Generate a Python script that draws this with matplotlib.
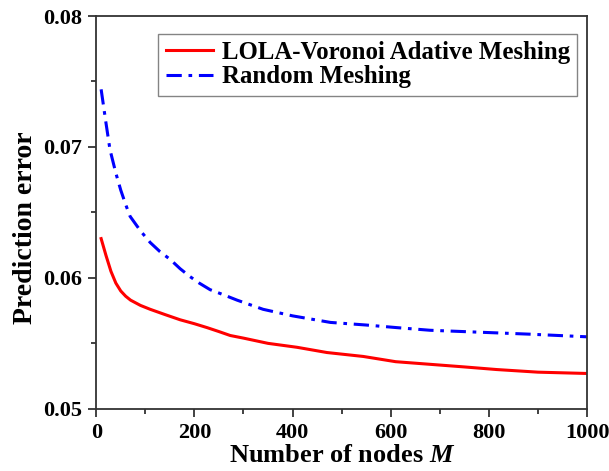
import matplotlib
matplotlib.use('Agg')
import matplotlib.pyplot as plt
from matplotlib.ticker import MultipleLocator

# values
red_x = [10, 20, 30, 40, 50, 60, 70, 90, 110, 140, 171, 200, 226, 250, 273,
         300, 350, 409, 470, 544, 610, 680, 750, 816, 900, 1000]
red_y = [0.0630, 0.0617, 0.0605, 0.0596, 0.0590, 0.0586, 0.0583, 0.0579,
         0.0576, 0.0572, 0.0568, 0.0565, 0.0562, 0.0559, 0.0556, 0.0554,
         0.0550, 0.0547, 0.0543, 0.0540, 0.0536, 0.0534, 0.0532, 0.0530,
         0.0528, 0.0527]
blue_x = [10, 20, 28, 40, 50, 60, 69, 90, 110, 130, 151, 171, 191, 210, 232,
          260, 287, 340, 400, 477, 550, 613, 680, 748, 884, 1000]
blue_y = [0.0744, 0.0718, 0.0698, 0.0680, 0.0667, 0.0656, 0.0647, 0.0636,
          0.0627, 0.0620, 0.0614, 0.0607, 0.0601, 0.0596, 0.0591, 0.0587,
          0.0583, 0.0576, 0.0571, 0.0566, 0.0564, 0.0562, 0.0560, 0.0559,
          0.0557, 0.0555]

plt.rcParams['font.family'] = ['Liberation Serif', 'DejaVu Serif']
plt.rcParams['font.weight'] = 'bold'
plt.rcParams['mathtext.fontset'] = 'custom'
plt.rcParams['mathtext.it'] = 'Liberation Serif:italic:bold'

fig = plt.figure(figsize=(6.09, 4.71), dpi=100)
ax = fig.add_axes([0.158, 0.132, 0.806, 0.834])

ax.plot(red_x, red_y, color='#ff0000', lw=2.2,
        label='LOLA-Voronoi Adative Meshing')
ax.plot(blue_x, blue_y, color='#0000ff', lw=2.2, dashes=(5, 2.2, 1.2, 2.2),
        label='Random Meshing')

ax.set_xlim(0, 1000)
ax.set_ylim(0.05, 0.08)
ax.xaxis.set_major_locator(MultipleLocator(200))
ax.xaxis.set_minor_locator(MultipleLocator(100))
ax.yaxis.set_major_locator(MultipleLocator(0.01))
ax.yaxis.set_minor_locator(MultipleLocator(0.005))
ax.yaxis.set_major_formatter(plt.FormatStrFormatter('%.2f'))

for s in ax.spines.values():
    s.set_linewidth(1.3)
    s.set_color('#333333')
ax.tick_params(which='both', direction='out', color='#333333', width=1.3)
ax.tick_params(which='major', length=6, labelsize=16, pad=4)
ax.tick_params(which='minor', length=3.5)

ax.set_xlabel('Number of nodes $M$', fontsize=19, fontweight='bold', labelpad=1)
ax.set_ylabel('Prediction error', fontsize=20, fontweight='bold')
ax.yaxis.set_label_coords(-0.119, 0.46)

leg = ax.legend(loc='upper right', bbox_to_anchor=(0.98, 0.955), fontsize=17.9,
                frameon=True, fancybox=False, edgecolor='#666666',
                handlelength=1.9, handletextpad=0.35, borderpad=0.3,
                labelspacing=0.05, borderaxespad=0)
leg.get_frame().set_linewidth(1.0)

fig.savefig('out.png', dpi=100)
